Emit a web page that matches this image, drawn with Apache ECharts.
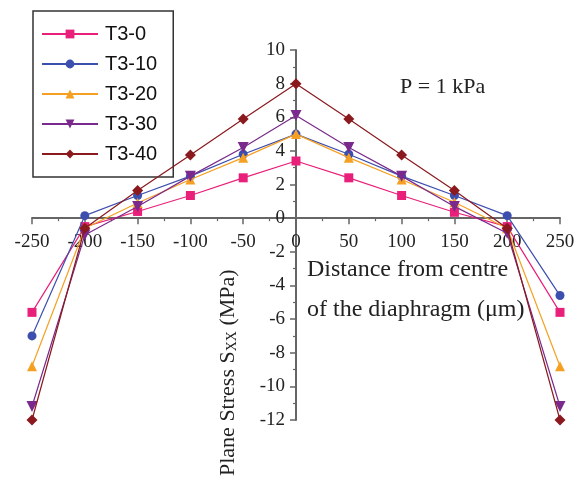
<!DOCTYPE html>
<html>
<head>
<meta charset="utf-8">
<script src="https://cdn.jsdelivr.net/npm/echarts@6/dist/echarts.min.js"></script>
<style>
  html, body { margin: 0; padding: 0; background: #fff; }
  #chart { width: 578px; height: 479px; }
</style>
</head>
<body>
<div id="chart"></div>
<script>
// Distance from the diaphragm centre (µm)
const distance = [-250, -200, -150, -100, -50, 0, 50, 100, 150, 200, 250];

// Plane stress Sxx (MPa) for each membrane thickness case
const t3_0  = [-5.6, -0.5, 0.4, 1.35, 2.4, 3.4, 2.4, 1.35, 0.35, -0.5, -5.6];
const t3_10 = [-7.0, 0.15, 1.35, 2.5, 3.8, 5.0, 3.8, 2.5, 1.35, 0.15, -4.6];
const t3_20 = [-8.8, -0.6, 0.9, 2.3, 3.6, 5.0, 3.6, 2.3, 0.95, -0.6, -8.8];
const t3_30 = [-11.2, -1.0, 0.7, 2.5, 4.2, 6.1, 4.2, 2.5, 0.7, -0.9, -11.2];
const t3_40 = [-12.0, -0.6, 1.65, 3.75, 5.9, 8.0, 5.9, 3.75, 1.65, -0.6, -12.0];

const seriesNames = ['T3-0', 'T3-10', 'T3-20', 'T3-30', 'T3-40'];
const seriesData = [t3_0, t3_10, t3_20, t3_30, t3_40];
const seriesColors = ['#e8207a', '#3d4fae', '#f5a023', '#7a2a8c', '#8a1a1e'];
const seriesSymbols = ['rect', 'circle', 'triangle', 'path://M0,0 L10,0 L5,10 Z', 'diamond'];
const symbolSizes = [9, 9, 10, 11, 11];

const yTicks = { min: -12, max: 10, interval: 2 };
const xTicks = { min: -250, max: 250, interval: 50 };

const serif = '"Liberation Serif", "DejaVu Serif", serif';

// Plot area
const W = 578, H = 479;
const grid = { left: 32, right: 18, top: 50, bottom: 59 };
const plotW = W - grid.left - grid.right;
const plotH = H - grid.top - grid.bottom;

// The two axes cross at the origin: shift each one from its grid edge to zero
const xAxisOffset = -plotH * (0 - yTicks.min) / (yTicks.max - yTicks.min);
const yAxisOffset = -plotW * (0 - xTicks.min) / (xTicks.max - xTicks.min);

const chart = echarts.init(document.getElementById('chart'), null, { renderer: 'canvas' });

const series = seriesNames.map((name, i) => ({
  name,
  type: 'line',
  data: distance.map((d, k) => [d, seriesData[i][k]]),
  symbol: seriesSymbols[i],
  symbolSize: symbolSizes[i],
  showAllSymbol: true,
  z: 2 + i,
  lineStyle: { color: seriesColors[i], width: 1.2 },
  itemStyle: { color: seriesColors[i] },
  emphasis: { disabled: true }
}));

chart.setOption({
  animation: false,
  backgroundColor: '#ffffff',
  grid: Object.assign({ containLabel: false }, grid),
  legend: {
    orient: 'vertical',
    left: 33,
    top: 11,
    padding: [13, 16, 13, 8],
    itemGap: 10,
    itemWidth: 56,
    itemHeight: 11,
    borderColor: '#333',
    borderWidth: 1.5,
    backgroundColor: '#fff',
    textStyle: { fontFamily: '"Liberation Sans", Arial, sans-serif', fontSize: 20, color: '#111', padding: [0, 0, 0, 2] },
    data: seriesNames
  },
  xAxis: {
    type: 'value',
    position: 'bottom',
    offset: xAxisOffset,
    min: xTicks.min,
    max: xTicks.max,
    interval: xTicks.interval,
    axisLine: { onZero: false, lineStyle: { color: '#666', width: 2 } },
    axisTick: { show: true, inside: false, length: 6, lineStyle: { color: '#666', width: 1.5 } },
    minorTick: { show: true, splitNumber: 2, length: 3, lineStyle: { color: '#666', width: 1.2 } },
    splitLine: { show: false },
    axisLabel: { fontFamily: serif, fontSize: 19, color: '#222', margin: 14 }
  },
  yAxis: {
    type: 'value',
    position: 'left',
    offset: yAxisOffset,
    min: yTicks.min,
    max: yTicks.max,
    interval: yTicks.interval,
    axisLine: { onZero: false, lineStyle: { color: '#666', width: 2 } },
    axisTick: { show: true, inside: false, length: 6, lineStyle: { color: '#666', width: 1.5 } },
    minorTick: { show: true, splitNumber: 2, length: 3, lineStyle: { color: '#666', width: 1.2 } },
    splitLine: { show: false },
    axisLabel: { fontFamily: serif, fontSize: 19, color: '#222', margin: 11 }
  },
  graphic: [
    {
      type: 'text',
      left: 400,
      top: 76,
      style: { text: 'P = 1 kPa', font: '22px ' + serif, fill: '#222' }
    },
    {
      type: 'text',
      left: 307,
      top: 250,
      style: {
        text: 'Distance from centre\nof the diaphragm (\u03bcm)',
        font: '24px ' + serif,
        fill: '#222',
        lineHeight: 40
      }
    },
    {
      type: 'text',
      x: 228,
      y: 476,
      rotation: Math.PI / 2,
      style: {
        text: '{n|Plane Stress S}{s|XX}{n| (MPa)}',
        rich: {
          n: { font: '22px ' + serif, fill: '#222' },
          s: { font: '14px ' + serif, fill: '#222', padding: [9, 0, 0, 0] }
        },
        align: 'left',
        verticalAlign: 'middle'
      }
    }
  ],
  series
});
</script>
</body>
</html>
